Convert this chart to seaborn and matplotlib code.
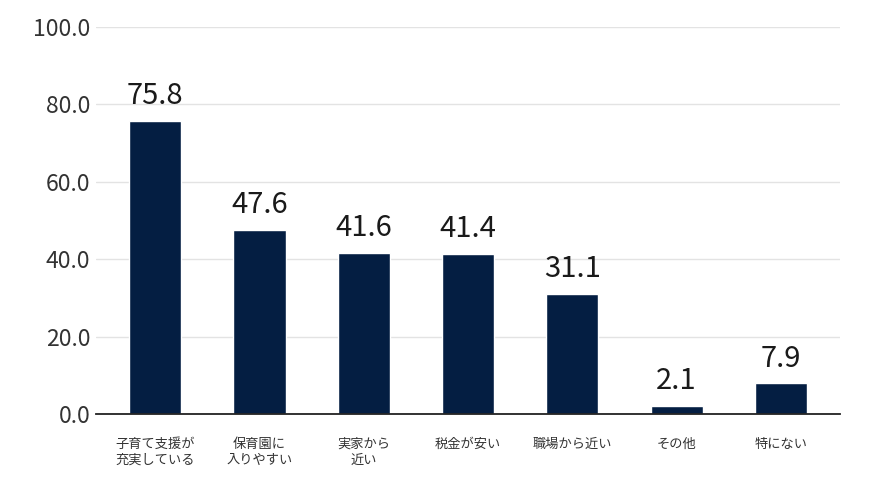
import matplotlib
matplotlib.use("Agg")
import matplotlib.pyplot as plt
import seaborn as sns
import pandas as pd

categories = ["子育て支援が\n充実している", "保育園に\n入りやすい", "実家から\n近い", "税金が安い", "職場から近い", "その他", "特にない"]
values = [75.8, 47.6, 41.6, 41.4, 31.1, 2.1, 7.9]
yticks = [0, 20, 40, 60, 80, 100]

sns.set_theme(style="white")
plt.rcParams['font.family'] = ['Noto Sans CJK JP', 'DejaVu Sans']

df = pd.DataFrame({"cat": categories, "val": values})

fig = plt.figure(figsize=(8.7, 4.8), dpi=100)
ax = fig.add_axes([0.110, 0.1375, 0.856, 0.8065])
sns.barplot(data=df, x="cat", y="val", color="#041e42", width=0.5, ax=ax, saturation=1)

ax.set_ylim(0, 100)
ax.set_xlim(-0.57, 6.57)
ax.set_yticks(yticks)
ax.set_yticklabels([f"{v:.1f}" for v in yticks], fontsize=16.5, color="#333333")
ax.grid(axis="y", color="#e3e3e3", linewidth=1)
ax.set_axisbelow(True)
ax.set_xlabel("")
ax.set_ylabel("")
for s in ["left", "right", "top"]:
    ax.spines[s].set_visible(False)
ax.spines["bottom"].set_color("#222222")
ax.spines["bottom"].set_linewidth(1.3)
ax.tick_params(axis="both", length=0)
ax.tick_params(axis="x", pad=17, labelsize=9.5, labelcolor="#333333")
ax.tick_params(axis="y", pad=4)
for lab in ax.get_xticklabels():
    lab.set_linespacing(1.3)

for i, v in enumerate(values):
    ax.annotate(f"{v:.1f}", (i, v), xytext=(0, 7), textcoords="offset points",
                ha="center", va="bottom", fontsize=21, color="#1a1a1a")

fig.savefig("out.png", dpi=100)
